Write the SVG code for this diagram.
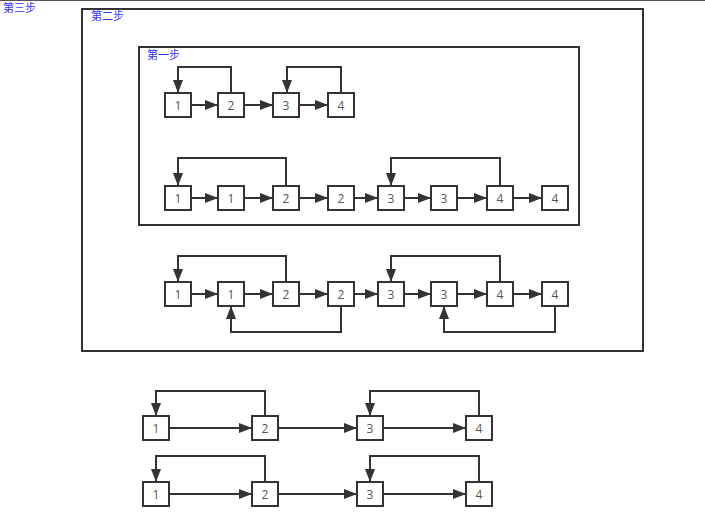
<svg xmlns="http://www.w3.org/2000/svg" width="705" height="520" viewBox="0 0 705 520">
<defs>
<marker id="ah" markerUnits="userSpaceOnUse" markerWidth="14" markerHeight="10" refX="13" refY="5" orient="auto">
<path d="M0,0 L13,5 L0,10 z" fill="#333"/>
</marker>
</defs>
<style>
.frame{fill:none;stroke:#333;stroke-width:2}
.nd rect{fill:#fff;stroke:#333;stroke-width:2}
.nd text{font-family:"Open Sans","Liberation Sans",Arial,sans-serif;font-size:12px;fill:#555;text-anchor:middle;dominant-baseline:central}
.lbl{font-family:"Liberation Sans","Noto Sans CJK SC",sans-serif;font-size:11px;fill:#3333ff}
.cn path{fill:none;stroke:#333;stroke-width:2;marker-end:url(#ah)}
</style>
<rect width="705" height="520" fill="#fff"/>
<line x1="0" y1="0.5" x2="705" y2="0.5" stroke="#555" stroke-width="1"/>
<text class="lbl" x="3" y="12">第三步</text>
<g id="step2"><rect class="frame" x="82" y="9" width="561" height="342"/><text class="lbl" x="91" y="20">第二步</text></g>
<g id="step1"><rect class="frame" x="139" y="47" width="440" height="178"/><text class="lbl" x="147" y="59">第一步</text></g>

<g class="cn" id="connectors">
<!-- row 1 -->
<path d="M191,105 H218"/><path d="M244,105 H273"/><path d="M299,105 H328"/>
<path d="M231,93 V67 H178 V93"/><path d="M341,93 V67 H287 V93"/>
<!-- row 2 -->
<path d="M191,198 H218"/><path d="M244,198 H273"/><path d="M299,198 H328"/><path d="M354,198 H378"/>
<path d="M404,198 H431"/><path d="M457,198 H487"/><path d="M513,198 H542"/>
<path d="M286,186 V158 H178 V186"/><path d="M500,186 V158 H391 V186"/>
<!-- row 3 -->
<path d="M191,294 H218"/><path d="M244,294 H273"/><path d="M299,294 H328"/><path d="M354,294 H378"/>
<path d="M404,294 H431"/><path d="M457,294 H487"/><path d="M513,294 H542"/>
<path d="M286,282 V256 H178 V282"/><path d="M500,282 V256 H391 V282"/>
<path d="M341,306 V332 H231 V306"/><path d="M555,306 V332 H444 V306"/>
<!-- row A -->
<path d="M169,428 H252"/><path d="M278,428 H357"/><path d="M383,428 H466"/>
<path d="M265,416 V391 H156 V416"/><path d="M479,416 V391 H370 V416"/>
<!-- row B -->
<path d="M169,494 H252"/><path d="M278,494 H357"/><path d="M383,494 H466"/>
<path d="M265,482 V456 H156 V482"/><path d="M479,482 V456 H370 V482"/>
</g>

<!-- row 1 -->
<g class="nd" id="r1n1"><rect x="165" y="93" width="26" height="24"/><text x="178" y="105">1</text></g>
<g class="nd" id="r1n2"><rect x="218" y="93" width="26" height="24"/><text x="231" y="105">2</text></g>
<g class="nd" id="r1n3"><rect x="273" y="93" width="26" height="24"/><text x="286" y="105">3</text></g>
<g class="nd" id="r1n4"><rect x="328" y="93" width="26" height="24"/><text x="341" y="105">4</text></g>
<!-- row 2 -->
<g class="nd" id="r2n1"><rect x="165" y="186" width="26" height="24"/><text x="178" y="198">1</text></g>
<g class="nd" id="r2n1b"><rect x="218" y="186" width="26" height="24"/><text x="231" y="198">1</text></g>
<g class="nd" id="r2n2"><rect x="273" y="186" width="26" height="24"/><text x="286" y="198">2</text></g>
<g class="nd" id="r2n2b"><rect x="328" y="186" width="26" height="24"/><text x="341" y="198">2</text></g>
<g class="nd" id="r2n3"><rect x="378" y="186" width="26" height="24"/><text x="391" y="198">3</text></g>
<g class="nd" id="r2n3b"><rect x="431" y="186" width="26" height="24"/><text x="444" y="198">3</text></g>
<g class="nd" id="r2n4"><rect x="487" y="186" width="26" height="24"/><text x="500" y="198">4</text></g>
<g class="nd" id="r2n4b"><rect x="542" y="186" width="26" height="24"/><text x="555" y="198">4</text></g>
<!-- row 3 -->
<g class="nd" id="r3n1"><rect x="165" y="282" width="26" height="24"/><text x="178" y="294">1</text></g>
<g class="nd" id="r3n1b"><rect x="218" y="282" width="26" height="24"/><text x="231" y="294">1</text></g>
<g class="nd" id="r3n2"><rect x="273" y="282" width="26" height="24"/><text x="286" y="294">2</text></g>
<g class="nd" id="r3n2b"><rect x="328" y="282" width="26" height="24"/><text x="341" y="294">2</text></g>
<g class="nd" id="r3n3"><rect x="378" y="282" width="26" height="24"/><text x="391" y="294">3</text></g>
<g class="nd" id="r3n3b"><rect x="431" y="282" width="26" height="24"/><text x="444" y="294">3</text></g>
<g class="nd" id="r3n4"><rect x="487" y="282" width="26" height="24"/><text x="500" y="294">4</text></g>
<g class="nd" id="r3n4b"><rect x="542" y="282" width="26" height="24"/><text x="555" y="294">4</text></g>
<!-- row A -->
<g class="nd" id="raN1"><rect x="143" y="416" width="26" height="24"/><text x="156" y="428">1</text></g>
<g class="nd" id="raN2"><rect x="252" y="416" width="26" height="24"/><text x="265" y="428">2</text></g>
<g class="nd" id="raN3"><rect x="357" y="416" width="26" height="24"/><text x="370" y="428">3</text></g>
<g class="nd" id="raN4"><rect x="466" y="416" width="26" height="24"/><text x="479" y="428">4</text></g>
<!-- row B -->
<g class="nd" id="rbN1"><rect x="143" y="482" width="26" height="24"/><text x="156" y="494">1</text></g>
<g class="nd" id="rbN2"><rect x="252" y="482" width="26" height="24"/><text x="265" y="494">2</text></g>
<g class="nd" id="rbN3"><rect x="357" y="482" width="26" height="24"/><text x="370" y="494">3</text></g>
<g class="nd" id="rbN4"><rect x="466" y="482" width="26" height="24"/><text x="479" y="494">4</text></g>
</svg>
